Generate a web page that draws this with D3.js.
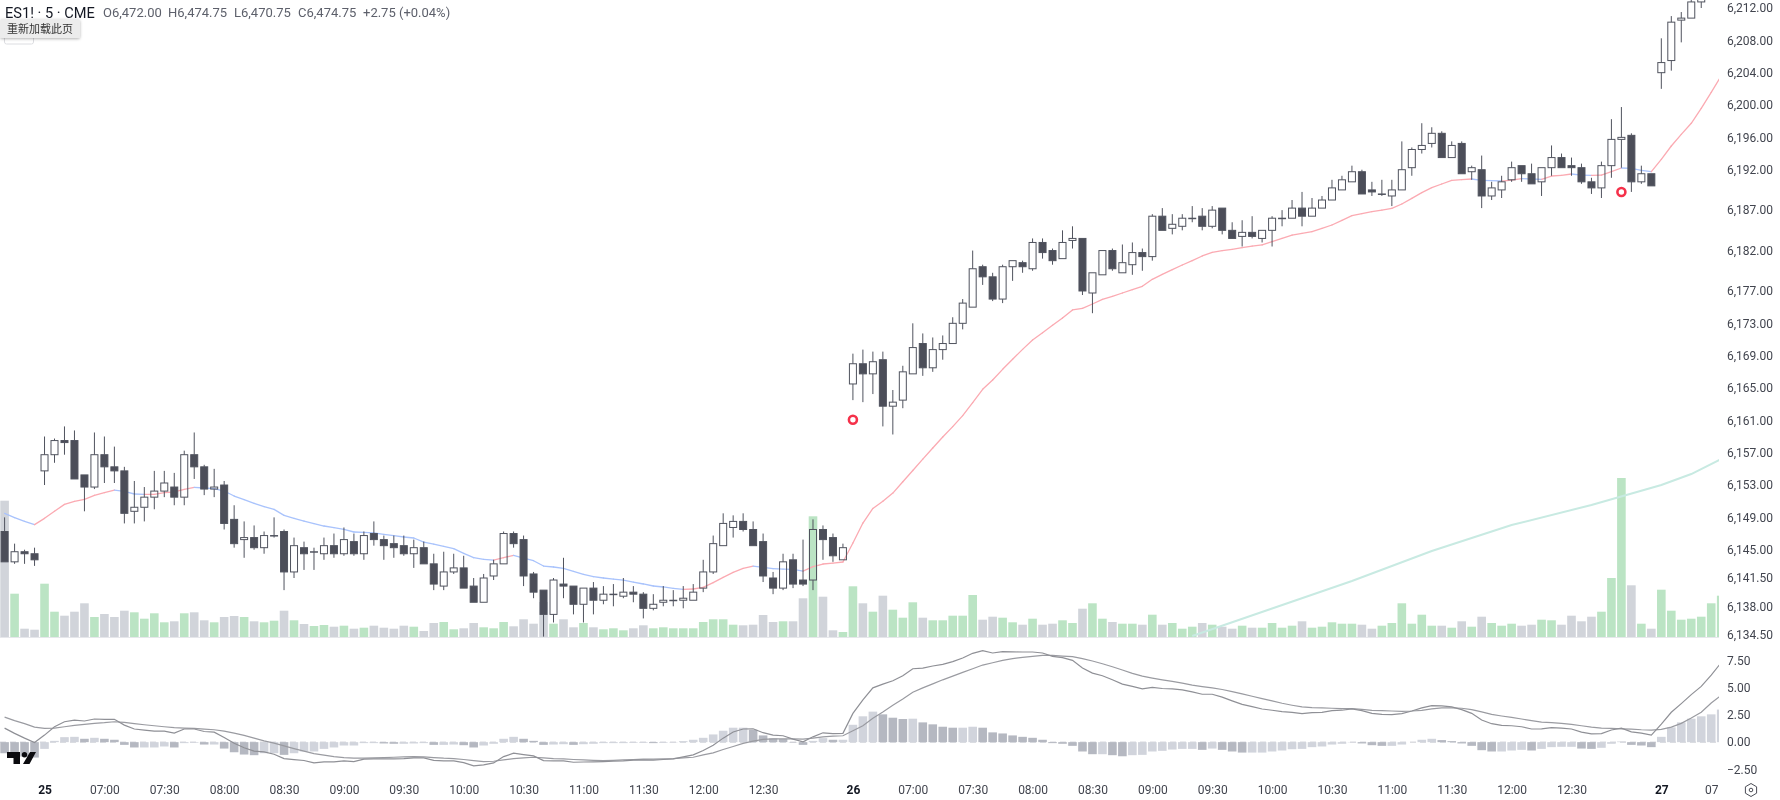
<!DOCTYPE html>
<html>
<head>
<meta charset="utf-8">
<script src="https://cdnjs.cloudflare.com/ajax/libs/d3/7.8.5/d3.min.js"></script>
<style>
body { margin: 0; background: #fff; }
text { font-family: Roboto, sans-serif; }
svg { filter: blur(0.35px); }
</style>
</head>
<body>
<div id="chart"></div>
<script>
const opens = [
6147.25,6143.5,6144.75,6144.5,6154.75,6156.75,6158.5,6158.5,6154.25,6152.75,
6156.75,6155.25,6154.75,6149.75,6150.25,6151.5,6152.25,6152.75,6151.5,6156.75,
6155.25,6152.5,6153,6148.75,6146.25,6146.5,6145.25,6146.75,6147.25,6142.25,
6145.25,6144.75,6144.5,6145.5,6144.5,6146,6144.5,6147,6146.25,6145.75,
6145.5,6144.5,6145.25,6143.25,6140.5,6142.25,6142.75,6140.5,6138.5,6141.75,
6143.25,6147,6146.25,6142,6140,6137,6140.75,6140.5,6138.25,6140.25,
6138.75,6139.5,6139.25,6139.75,6139.5,6137.75,6138.5,6138.75,6138.75,6138.75,
6140.25,6142.25,6145.5,6147.75,6148.5,6147.5,6146,6141.5,6140.25,6143.75,
6141.25,6141.25,6147.5,6146.5,6143.75,6165.5,6168,6166.75,6168.5,6162.75,
6163.5,6166.75,6170.5,6167.5,6169.75,6170.5,6173,6175,6180,6178.75,
6176,6180,6180.5,6179.75,6183,6182,6181,6183.25,6183.5,6176.75,
6179,6182,6179.25,6180.25,6181.75,6181.25,6186.25,6184.75,6185,6186,
6186.25,6185,6187.25,6184.5,6183.75,6184.25,6183.5,6184.5,6186,6186,
6187.25,6186.25,6187.25,6188.25,6189.5,6190.5,6191.75,6189.5,6189,6188.75,
6189.5,6192.25,6194.5,6195.25,6196.5,6193.5,6195.25,6191.75,6192,6188.75,
6189.5,6190.75,6192.5,6191.5,6190.5,6192.25,6193.5,6192.5,6192.25,6190.5,
6189.75,6192.5,6195.75,6196.25,6190.5,6191.5,6204,6205.5,6210.5,6210.75,6212.75,6214,6215.5];
const highs = [
6149,6145.75,6145,6145.25,6159,6158.75,6160.25,6159.75,6154.25,6159.5,
6159,6157.75,6155.25,6153.5,6152.75,6154.75,6154.75,6154.5,6157.25,6159.5,
6155.5,6155,6153.5,6150.5,6148.5,6148,6147.25,6149,6147.5,6146.5,
6146,6145.25,6146.5,6147,6147.75,6147,6147.25,6148.5,6146.75,6146.75,
6146.75,6146.25,6146,6144.5,6144.75,6144.5,6144.25,6141.5,6142,6143.75,
6147.25,6147.25,6146.75,6142.25,6140,6141.5,6144,6140.5,6140.25,6141,
6140.5,6140.75,6141.5,6140.5,6139.75,6139.5,6140.5,6140,6140.5,6140.75,
6143.75,6146.75,6149.5,6149.25,6149.5,6148.5,6147,6142.25,6144.5,6144.5,
6146.25,6148.75,6148,6147,6145.75,6169.25,6169.75,6169.5,6169.5,6164.75,
6167.75,6173,6171.75,6171.25,6171.5,6173.75,6176,6182,6180.25,6179.25,
6180.25,6180.75,6180.75,6183.5,6183.5,6182.25,6184.5,6185,6183.5,6179.25,
6182,6182.25,6182.75,6183,6182.25,6186.5,6187.25,6186.5,6186.5,6187.5,
6187.25,6187.5,6187.25,6185.5,6185.75,6186.25,6184.5,6186.25,6187,6188.25,
6189.25,6188.5,6188.75,6190.75,6191.25,6192.5,6192,6190.5,6190.75,6190.75,
6195.5,6194.75,6197.75,6197.25,6196.75,6195.5,6195.5,6192.5,6193.75,6190.5,
6191.25,6193,6192.5,6192.75,6192.25,6195,6194,6193.5,6192.75,6191,
6193,6198.25,6199.75,6196.5,6192.5,6191.5,6208.25,6211,6211.5,6213,6214,6216,6218];
const lows = [
6143.5,6143.25,6143.25,6143,6153,6155.75,6156.75,6153.75,6149.75,6152.5,
6153.25,6153.25,6148.25,6148.25,6148.5,6150,6151.5,6150.5,6150.5,6153.75,
6151.75,6151.5,6147.5,6145.25,6144,6145,6144.5,6146.5,6140,6141.5,
6142.5,6142.5,6143.75,6144,6144.25,6144.25,6143.75,6145.5,6143.75,6144,
6144.25,6142.75,6143.25,6140,6140,6142,6140.25,6138.5,6138.5,6141.25,
6143.25,6145.25,6140.5,6139,6134.25,6136,6139,6137,6136,6137,
6138.25,6138,6139,6138.5,6136.5,6137.5,6138,6138,6137.75,6138.75,
6139.75,6142,6145.5,6146.5,6147.25,6145.5,6141,6139.5,6140,6140.25,
6140.5,6140,6143.75,6143.5,6143.75,6163.5,6163.25,6164.25,6160.25,6159.25,
6162.5,6166.75,6166.5,6167,6168.5,6170.5,6172.25,6175,6177.75,6175.75,
6175.5,6178.25,6179.25,6179.5,6181,6180.25,6181,6182.25,6176.5,6174.25,
6179,6179.5,6179.25,6179,6179.5,6180.75,6184.5,6184,6184.5,6185.5,
6184.5,6184.75,6184,6183.5,6182.5,6183.5,6183,6182.5,6185,6186,
6185,6186.25,6187.25,6188.25,6189.5,6190.5,6189,6188.75,6188.75,6187.5,
6189.5,6191.25,6194,6194.75,6193.5,6193.5,6191.5,6190.75,6187.25,6188.25,
6188.5,6190.5,6190.5,6190.25,6188.75,6191.25,6192.25,6191.25,6190.25,6189,
6188.5,6191,6192.25,6189.25,6190.25,6190,6202,6204.25,6207.75,6210.75,6212,6214,6215];
const closes = [
6143.5,6144.75,6144.5,6143.75,6156.75,6158.5,6158.25,6153.75,6152.75,6156.75,
6155.25,6154.75,6149.5,6150.25,6151.5,6152.25,6153.25,6151.5,6156.75,6155.25,
6152.5,6152.75,6148.25,6145.75,6146.5,6145.25,6146.75,6146.75,6142.25,6145.5,
6144.5,6144.75,6145.5,6144.5,6146.25,6144.5,6146.75,6146.25,6145.5,6145.25,
6144.5,6145.25,6143.25,6140.75,6142.25,6142.75,6140.25,6138.5,6141.5,6143.25,
6147,6145.75,6141.75,6139.75,6137,6141.25,6140.5,6138.25,6140.25,6138.75,
6139.5,6139.5,6139.75,6139.5,6137.75,6138.25,6138.75,6138.75,6139,6139.75,
6142.25,6145.75,6148.25,6148.5,6147.5,6145.5,6141.75,6140.25,6143.5,6140.75,
6140.75,6147.5,6146.25,6144.25,6145.25,6168,6166.75,6168.25,6162.75,6163.25,
6167,6170,6167.5,6169.75,6170.5,6173,6175.5,6179.75,6178.75,6176,
6180,6180.75,6180,6183,6181.75,6180.75,6183,6183.5,6177,6179.25,
6182,6179.75,6180.5,6181.75,6181.25,6186.25,6184.5,6185.25,6186,6186,
6185,6187,6184.5,6183.5,6184.25,6183.75,6184.5,6186,6186,6187.25,
6186.25,6187.25,6188.25,6189.75,6190.75,6191.75,6189,6189.25,6189,6189.5,
6192,6194.5,6195,6196.5,6193.5,6195,6191.5,6192.25,6188.75,6189.75,
6190.5,6192.25,6191.5,6190.25,6192.25,6193.5,6192.25,6192.25,6190.5,6189.75,
6192.5,6195.75,6196,6190.5,6191.5,6190,6205.25,6210.25,6210.75,6212.75,6214,6215.5,6217];
const volumes = [
6815,2165,415,365,2665,1265,1065,1265,1685,1000,
1150,1000,1315,1235,915,1185,735,785,1185,1235,
835,735,1000,1050,1000,785,735,815,1315,835,
650,550,600,515,565,415,465,565,465,415,
565,515,300,700,750,385,435,700,485,435,
750,535,885,665,1750,665,885,485,700,485,
385,435,335,435,585,435,485,435,435,435,
750,885,885,615,585,615,1100,750,785,785,
1935,6035,2015,335,250,2535,1685,1265,2065,1365,
965,1735,965,835,835,1065,1065,2100,865,1015,
965,735,615,915,615,665,835,700,1415,1685,
915,750,665,665,615,1115,615,700,415,515,
700,615,515,415,565,465,465,700,465,565,
785,465,515,735,665,665,615,415,565,700,
1685,665,1115,565,565,465,785,515,1015,700,
565,665,565,615,865,835,615,1065,785,1015,
1265,2950,7950,2585,665,415,2365,1315,865,915,1015,1685,2065];
const ema20 = [
6149.5,6148.96,6148.51,6148.1,6148.88,6149.75,6150.61,6150.98,6151.23,6151.73,
6152.06,6152.38,6152.22,6151.89,6151.85,6151.85,6152.06,6152.14,6152.47,6152.71,
6152.63,6152.55,6152.26,6151.64,6151.19,6150.74,6150.32,6149.99,6149.25,6148.88,
6148.55,6148.22,6147.93,6147.73,6147.52,6147.19,6147.15,6147.07,6146.9,6146.74,
6146.57,6146.45,6145.95,6145.7,6145.42,6145.13,6144.55,6144.01,6143.81,6143.72,
6144.01,6144.3,6143.97,6143.64,6142.98,6142.86,6142.69,6142.32,6141.95,6141.66,
6141.5,6141.37,6141.25,6141,6140.76,6140.51,6140.39,6140.22,6140.1,6140.14,
6140.34,6140.92,6141.58,6142.2,6142.69,6142.98,6142.82,6142.65,6142.61,6142.57,
6142.36,6142.9,6143.23,6143.35,6143.48,6145.83,6148.3,6150.1,6151,6152,
6153.4,6154.8,6156.2,6157.58,6158.94,6160.22,6161.58,6163.19,6164.84,6165.99,
6167.31,6168.55,6169.78,6170.94,6171.84,6172.75,6173.66,6174.65,6174.85,6175.39,
6175.97,6176.34,6176.75,6177.16,6177.58,6178.44,6179.06,6179.64,6180.21,6180.75,
6181.33,6181.78,6181.99,6182.15,6182.36,6182.56,6182.69,6183.1,6183.51,6183.92,
6184.13,6184.33,6184.75,6185.16,6185.74,6186.31,6186.56,6186.81,6187.01,6187.22,
6187.76,6188.46,6189.16,6189.78,6190.23,6190.68,6190.77,6190.85,6190.68,6190.64,
6190.6,6190.72,6190.89,6190.85,6190.81,6191.22,6191.3,6191.47,6191.34,6191.3,
6191.34,6191.76,6192.21,6192.17,6191.92,6191.76,6193.28,6194.93,6196.37,6197.74,6199.59,6201.57,6203.59];
const slowMaIdx = [119,127,135,143,151,159,166,169,172];
const slowMaVal = [6134.33,6137.73,6141.13,6144.84,6148.05,6150.53,6153,6154.36,6156.22];
const markerIdx = [85,162];
const markerPrice = [6161.08,6189.24];
const signal = [
2.31,1.98,1.7,1.39,1.27,1.3,1.42,1.54,1.64,1.73,
1.79,1.88,1.82,1.7,1.6,1.51,1.42,1.33,1.3,1.27,
1.2,1.14,1.02,.83,.62,.37,.12,-.09,-.34,-.59,
-.83,-1.05,-1.2,-1.33,-1.42,-1.48,-1.48,-1.45,-1.42,-1.39,
-1.36,-1.33,-1.36,-1.42,-1.48,-1.51,-1.6,-1.7,-1.79,-1.76,
-1.64,-1.51,-1.45,-1.39,-1.45,-1.51,-1.54,-1.6,-1.64,-1.67,
-1.7,-1.67,-1.64,-1.6,-1.57,-1.57,-1.54,-1.51,-1.45,-1.39,
-1.17,-.99,-.68,-.4,-.12,.09,.25,.31,.31,.31,
.28,.37,.49,.56,.59,1.05,1.51,2.19,2.78,3.4,
3.98,4.6,5,5.37,5.74,6.08,6.42,6.76,7.1,7.31,
7.53,7.69,7.81,7.9,7.99,7.99,7.93,7.87,7.69,7.47,
7.22,6.94,6.64,6.33,6.08,5.9,5.74,5.59,5.43,5.25,
5.12,5,4.85,4.66,4.44,4.23,4.01,3.8,3.58,3.4,
3.24,3.18,3.15,3.12,3.09,3.09,3.02,2.93,2.9,2.87,
2.84,2.87,2.93,3.06,3.15,3.15,3.12,2.99,2.78,2.56,
2.41,2.28,2.13,1.98,1.85,1.79,1.73,1.64,1.51,1.39,
1.3,1.27,1.23,1.2,1.14,1.11,1.17,1.39,1.73,2.22,2.75,3.61,4.32];
const hist = [
-1.02,-1.17,-1.33,-1.42,-.62,.12,.46,.49,.31,.4,
.31,.22,-.25,-.49,-.49,-.49,-.4,-.49,-.09,-.06,
-.22,-.22,-.59,-.93,-1.14,-1.2,-1.02,-1.02,-1.17,-1.02,
-.86,-.86,-.62,-.49,-.31,-.31,-.09,-.09,-.12,-.15,
-.15,-.12,-.09,-.25,-.25,-.22,-.28,-.49,-.31,-.15,
.31,.49,.31,.12,-.25,-.22,-.19,-.25,-.19,-.15,
-.09,-.09,-.09,-.06,-.06,-.09,-.06,-.03,.09,.22,
.4,.71,1.05,1.33,1.33,1.14,.62,.34,.28,-.03,
-.25,.12,.37,.22,.22,1.6,2.38,2.81,2.56,2.25,
2.13,2.16,1.82,1.64,1.42,1.33,1.33,1.42,1.33,.9,
.8,.62,.49,.4,.22,-.09,-.15,-.34,-.86,-1.11,
-1.11,-1.2,-1.3,-1.2,-1.17,-.86,-.8,-.68,-.62,-.62,
-.71,-.59,-.71,-.86,-.96,-.96,-.96,-.86,-.77,-.65,
-.62,-.46,-.4,-.22,-.15,-.03,-.12,-.28,-.34,-.34,
-.22,0,.22,.31,.19,.09,-.12,-.34,-.74,-.86,
-.86,-.77,-.71,-.77,-.62,-.46,-.43,-.43,-.59,-.62,
-.52,-.15,.06,-.25,-.31,-.46,.49,1.36,1.82,2.16,2.38,2.56,3];
const priceTicks = [6212,6208,6204,6200,6196,6192,6187,6182,6177,6173,6169,6165,6161,6157,6153,6149,6145,6141.5,6138,6134.5];
const macdTicks = [7.5,5,2.5,0,-2.5];
const timeIdx = [4,10,16,22,28,34,40,46,52,58,64,70,76,85,91,97,103,109,115,121,127,133,139,145,151,157,166,171];
const timeLabels = ["25","07:00","07:30","08:00","08:30","09:00","09:30","10:00","10:30","11:00","11:30","12:00","12:30","26","07:00","07:30","08:00","08:30","09:00","09:30","10:00","10:30","11:00","11:30","12:00","12:30","27","07"];

var width = 1780, height = 800, plotRight = 1719, priceBottom = 637;

var svg = d3.select("#chart")
.append("svg")
.attr("width", width)
.attr("height", height)
.style("display", "block");

var x = d3.scaleLinear().domain([0, 172]).range([4.6, 1721.2]);
var y = d3.scaleLinear().domain([6134.5, 6212]).range([634.6, 8]);
var yVol = d3.scaleLinear().domain([0, 8000]).range([priceBottom, 477]);
var yMacd = d3.scaleLinear().domain([-2.5, 7.5]).range([769.3, 660.7]);

var bars = d3.range(opens.length);

var defs = svg.append("defs");
defs.append("clipPath").attr("id", "pricePane").append("rect")
.attr("width", plotRight).attr("height", priceBottom);
defs.append("clipPath").attr("id", "macdPane").append("rect")
.attr("y", priceBottom).attr("width", plotRight).attr("height", 140);

// price pane
var price = svg.append("g").attr("clip-path", "url(#pricePane)");

price.append("g")
.selectAll("rect")
.data(bars)
.enter()
.append("rect")
.attr("x", i => x(i) - 4.3)
.attr("y", i => yVol(volumes[i]))
.attr("width", 8.6)
.attr("height", i => priceBottom - yVol(volumes[i]))
.style("fill", i => closes[i] >= opens[i] ? "#bbe4c4" : "#d1d4da");

svg.append("line")
.attr("x1", 0).attr("x2", plotRight)
.attr("y1", priceBottom + 0.5).attr("y2", priceBottom + 0.5)
.style("stroke", "#e6e7eb");

var slowLine = d3.line().x((d, i) => x(slowMaIdx[i])).y(d => y(d));
price.append("path")
.attr("d", slowLine(slowMaVal))
.style("fill", "none")
.style("stroke", "#c8eae2")
.style("stroke-width", 2);

// ema changes colour with its direction
var emaLine = d3.line().x(d => x(d)).y(d => y(ema20[d]));
price.append("g")
.selectAll("path")
.data(bars.slice(0, -1))
.enter()
.append("path")
.attr("d", i => emaLine([i, i + 1]))
.style("fill", "none")
.style("stroke-width", 1.3)
.style("stroke-linecap", "round")
.style("stroke", i => ema20[i + 1] >= ema20[i] ? "#fbaab2" : "#a9c3fc");

var candle = price.append("g")
.selectAll("g")
.data(bars)
.enter()
.append("g");

candle.append("line")
.attr("x1", i => x(i)).attr("x2", i => x(i))
.attr("y1", i => y(highs[i]))
.attr("y2", i => y(Math.max(opens[i], closes[i])))
.style("stroke", "#50535e");

candle.append("line")
.attr("x1", i => x(i)).attr("x2", i => x(i))
.attr("y1", i => y(Math.min(opens[i], closes[i])))
.attr("y2", i => y(lows[i]))
.style("stroke", "#50535e");

candle.append("rect")
.attr("x", i => x(i) - 3.5)
.attr("y", i => y(Math.max(opens[i], closes[i])))
.attr("width", 7)
.attr("height", i => Math.max(0.5, Math.abs(y(opens[i]) - y(closes[i]))))
.style("stroke", "#50535e")
.style("fill", i => closes[i] >= opens[i] ? "none" : "#4c4e59");

price.append("g")
.selectAll("circle")
.data(markerIdx)
.enter()
.append("circle")
.attr("cx", d => x(d))
.attr("cy", (d, i) => y(markerPrice[i]))
.attr("r", 4)
.style("fill", "none")
.style("stroke", "#f5314a")
.style("stroke-width", 2.6);

// macd pane
var macd = svg.append("g").attr("clip-path", "url(#macdPane)");

macd.append("line")
.attr("x1", 0).attr("x2", plotRight)
.attr("y1", yMacd(0)).attr("y2", yMacd(0))
.style("stroke", "#c9cbd1")
.style("stroke-dasharray", "6 4");

macd.append("g")
.selectAll("rect")
.data(bars)
.enter()
.append("rect")
.attr("x", i => x(i) - 4.3)
.attr("y", i => Math.min(yMacd(0), yMacd(hist[i])))
.attr("width", 8.6)
.attr("height", i => Math.abs(yMacd(hist[i]) - yMacd(0)))
.style("fill", i => i > 0 && hist[i] >= hist[i - 1] ? "#d1d4dc" : "#b5b8c1");

var macdLine = d3.line().x((d, i) => x(i)).y(d => yMacd(d));
macd.append("path")
.attr("d", macdLine(signal))
.style("fill", "none")
.style("stroke", "#9a9ba1")
.style("stroke-width", 1.2);
macd.append("path")
.attr("d", macdLine(signal.map((d, i) => d + hist[i])))
.style("fill", "none")
.style("stroke", "#8f9096")
.style("stroke-width", 1.2);

// axes
function styleAxis(g) {
	g.select(".domain").remove();
	g.selectAll("text").style("font-size", "12px").style("fill", "#42454f");
}

svg.append("g")
.attr("transform", "translate(" + plotRight + ",0)")
.call(d3.axisRight(y).tickValues(priceTicks).tickSize(0).tickPadding(8).tickFormat(d3.format(",.2f")))
.call(styleAxis);

svg.append("g")
.attr("transform", "translate(" + plotRight + ",0)")
.call(d3.axisRight(yMacd).tickValues(macdTicks).tickSize(0).tickPadding(8).tickFormat(d3.format(".2f")))
.call(styleAxis);

var timeAxis = svg.append("g")
.attr("transform", "translate(0,785.7)")
.call(d3.axisBottom(x).tickValues(timeIdx).tickSize(0).tickPadding(0).tickFormat((d, i) => timeLabels[i]))
.call(styleAxis);

timeAxis.selectAll("text")
.filter(function() { return this.textContent.length == 2 && this.textContent != "07"; })
.style("font-weight", 700)
.style("fill", "#131722");

// legend line
var legendX = [103,168,234,298];
var legendText = ["O6,472.00","H6,474.75","L6,470.75","C6,474.75"];
svg.append("text").attr("x", 5).attr("y", 18)
.style("font-size", "14.6px").style("fill", "#131722")
.text("ES1! · 5 · CME");
legendText.forEach(function(t, i) {
	svg.append("text").attr("x", legendX[i]).attr("y", 17)
	.style("font-size", "13px").style("fill", "#5d606b")
	.text(t);
});
svg.append("text").attr("x", 363).attr("y", 17)
.style("font-size", "13px").style("fill", "#5d606b")
.text("+2.75 (+0.04%)");

// collapsed legend button sits under the browser tooltip
svg.append("rect")
.attr("x", 4.5).attr("y", 30.5).attr("width", 29).attr("height", 13.5).attr("rx", 2)
.style("fill", "#fff").style("stroke", "#dcdde1");

var shadow = defs.append("filter").attr("id", "tipShadow")
.attr("x", "-10%").attr("y", "-20%").attr("width", "120%").attr("height", "160%");
shadow.append("feDropShadow")
.attr("dx", 0).attr("dy", 1).attr("stdDeviation", 1.5).attr("flood-opacity", 0.3);

svg.append("rect")
.attr("x", 0).attr("y", 19).attr("width", 80).attr("height", 19).attr("rx", 2)
.style("fill", "#ececec")
.attr("filter", "url(#tipShadow)");
svg.append("text").attr("x", 7).attr("y", 33)
.style("font-family", "'Noto Sans CJK SC'").style("font-size", "11px").style("fill", "#333")
.text("重新加载此页");

// tradingview logo
svg.append("path")
.attr("d", "M7 752H20V764H13.5V758H7ZM30 752H36L29.5 764H23Z")
.style("fill", "#0b0b0f");
svg.append("circle").attr("cx", 24.5).attr("cy", 754.8).attr("r", 2.7).style("fill", "#0b0b0f");

// settings icon
svg.append("path")
.attr("d", "M1751 783.5L1756.6 786.8V793.2L1751 796.5L1745.4 793.2V786.8Z")
.style("fill", "none").style("stroke", "#4a4c55");
svg.append("circle").attr("cx", 1751).attr("cy", 790).attr("r", 1.8)
.style("fill", "none").style("stroke", "#4a4c55");
</script>
</body>
</html>
